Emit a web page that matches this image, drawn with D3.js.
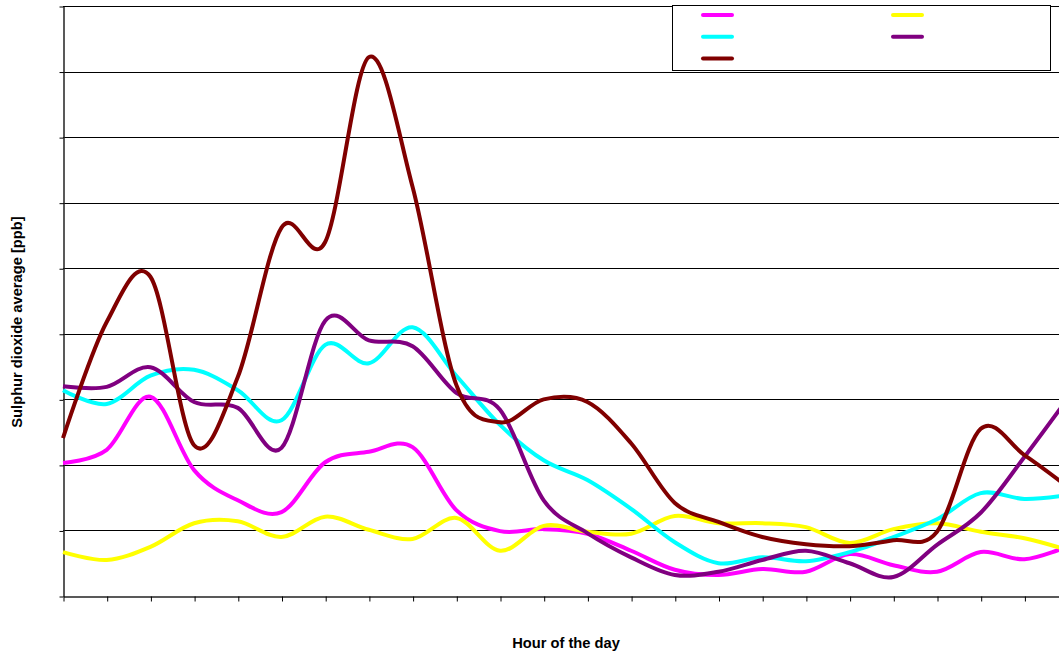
<!DOCTYPE html>
<html>
<head>
<meta charset="utf-8">
<script src="https://cdn.jsdelivr.net/npm/d3@7"></script>
<style>
    body { margin: 0; background: #fff; }
    svg { display: block; font-family: "Liberation Sans", Arial, sans-serif; }
</style>
</head>
<body>
<script>

// hours 0..23, values in ppb
var hours = d3.range(24);

var magenta = [2.03, 2.23, 3.04, 1.92, 1.46, 1.28, 2.04, 2.20, 2.27, 1.31, 0.99, 1.02,
               0.95, 0.69, 0.40, 0.32, 0.41, 0.37, 0.64, 0.47, 0.37, 0.67, 0.56, 0.76];
var yellow  = [0.67, 0.55, 0.75, 1.11, 1.14, 0.90, 1.21, 1.01, 0.87, 1.19, 0.69, 1.07,
               0.98, 0.95, 1.22, 1.11, 1.11, 1.05, 0.81, 1.02, 1.11, 0.98, 0.88, 0.70];
var cyan    = [3.14, 2.93, 3.36, 3.45, 3.14, 2.68, 3.83, 3.55, 4.10, 3.36, 2.61, 2.07,
               1.77, 1.33, 0.82, 0.50, 0.59, 0.53, 0.67, 0.90, 1.17, 1.57, 1.48, 1.54];
var purple  = [3.20, 3.19, 3.49, 2.96, 2.87, 2.26, 4.20, 3.90, 3.81, 3.10, 2.84, 1.46,
               0.96, 0.59, 0.32, 0.37, 0.55, 0.69, 0.50, 0.29, 0.78, 1.27, 2.12, 3.02];
var brown   = [2.41, 4.18, 4.87, 2.30, 3.34, 5.62, 5.40, 8.22, 6.24, 3.22, 2.65, 3.00,
               2.96, 2.33, 1.42, 1.13, 0.90, 0.79, 0.76, 0.85, 0.98, 2.55, 2.15, 1.66];

var seriesValues = [magenta, yellow, cyan, purple, brown];
var seriesColors = ["#ff00ff", "#ffff00", "#00ffff", "#800080", "#800000"];
var yTicks = d3.range(0, 10);

var width = 1059, height = 654;

var x = d3.scaleLinear().domain([0, 23]).range([63, 63 + 23 * 43.7]);
var y = d3.scaleLinear().domain([0, 9]).range([596, 6]);

var svg = d3.select("body").append("svg")
    .attr("width", width)
    .attr("height", height);

// gridlines
svg.append("g")
    .selectAll("line")
    .data(yTicks.slice(1))
    .enter().append("line")
    .attr("x1", x(0)).attr("x2", x(23))
    .attr("y1", d => Math.round(y(d)) + 0.5)
    .attr("y2", d => Math.round(y(d)) + 0.5)
    .attr("stroke", "#000")
    .attr("stroke-width", 1);

// y axis, no labels
svg.append("g")
    .attr("transform", "translate(" + (x(0) + 0.5) + ",0.5)")
    .call(d3.axisLeft(y).tickValues(yTicks).tickFormat("").tickSize(4).tickSizeOuter(0))
    .call(g => g.select(".domain").attr("stroke", "#222").attr("stroke-width", 1.5));

// x axis, no labels
svg.append("g")
    .attr("transform", "translate(0.5," + (y(0) + 0.5) + ")")
    .call(d3.axisBottom(x).tickValues(hours).tickFormat("").tickSize(5).tickSizeOuter(0))
    .call(g => g.select(".domain").attr("stroke", "#222").attr("stroke-width", 1.5));

var line = d3.line()
    .x((d, i) => x(hours[i]))
    .y(d => y(d))
    .curve(d3.curveCatmullRom.alpha(0));

svg.append("g")
    .selectAll("path")
    .data(seriesValues)
    .enter().append("path")
    .attr("d", line)
    .attr("fill", "none")
    .attr("stroke", (d, i) => seriesColors[i])
    .attr("stroke-width", 4)
    .attr("stroke-linejoin", "round");

// legend (entries have no text in the original)
var legend = svg.append("g");
legend.append("rect")
    .attr("x", 672.5).attr("y", 5.5)
    .attr("width", 378).attr("height", 65)
    .attr("fill", "#fff")
    .attr("stroke", "#000");

legend.selectAll("line")
    .data(seriesColors)
    .enter().append("line")
    .attr("x1", (d, i) => i % 2 ? 893 : 703)
    .attr("x2", (d, i) => i % 2 ? 922 : 732)
    .attr("y1", (d, i) => 15 + Math.floor(i / 2) * 21.8)
    .attr("y2", (d, i) => 15 + Math.floor(i / 2) * 21.8)
    .attr("stroke", d => d)
    .attr("stroke-width", 4)
    .attr("stroke-linecap", "round");

// axis titles
svg.append("text")
    .attr("x", 566).attr("y", 648)
    .attr("text-anchor", "middle")
    .attr("font-size", 14.7)
    .attr("font-weight", "bold")
    .text("Hour of the day");

svg.append("text")
    .attr("transform", "translate(22,322) rotate(-90)")
    .attr("text-anchor", "middle")
    .attr("font-size", 14.7)
    .attr("font-weight", "bold")
    .text("Sulphur dioxide average [ppb]");

</script>
</body>
</html>
